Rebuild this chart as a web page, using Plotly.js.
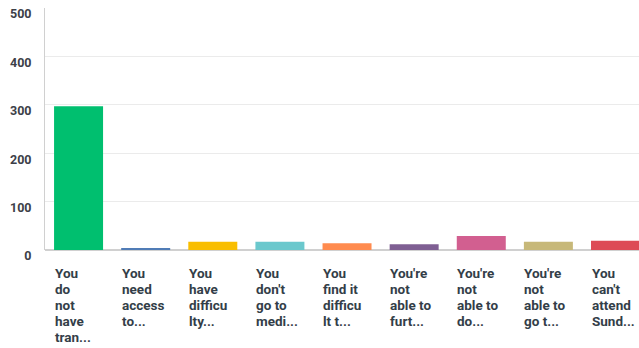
<!DOCTYPE html>
<html>
<head>
<meta charset="utf-8">
<script src="https://cdn.plot.ly/plotly-3.0.1.min.js"></script>
<style>html,body{margin:0;padding:0;background:#fff}#chart{width:639px;height:348px}</style>
</head>
<body>
<div id="chart"></div>
<script>
// Category labels as wrapped/truncated in the reference (one entry per line)
const categories = [
  ["You", "do", "not", "have", "tran..."],
  ["You", "need", "access", "to..."],
  ["You", "have", "difficu", "lty..."],
  ["You", "don't", "go to", "medi..."],
  ["You", "find it", "difficu", "lt t..."],
  ["You're", "not", "able to", "furt..."],
  ["You're", "not", "able to", "do..."],
  ["You're", "not", "able to", "go t..."],
  ["You", "can't", "attend", "Sund..."]
];
const values = [297, 4, 17, 17, 14, 12, 29, 17, 19];
const colors = ["#00bf6f","#507cb6","#f9be00","#6bc8cd","#ff8b4f","#7f5f93","#d25f90","#c7b879","#dd4b56"];
const yTicks = [0, 100, 200, 300, 400, 500];

const idx = categories.map((_, i) => i);
const trace = {
  type: 'bar',
  x: idx,
  y: values,
  marker: {color: colors},
  hoverinfo: 'none'
};
const annotations = [];
categories.forEach((lines, i) => {
  lines.forEach((ln, j) => {
    annotations.push({
      x: i, xref: 'x', y: 0, yref: 'y',
      xanchor: 'left', yanchor: 'middle', align: 'left', valign: 'middle',
      xshift: -25, yshift: -(23 + 16 * j), borderpad: 0,
      text: ln, showarrow: false,
      font: {family: 'Roboto', size: 13.5, color: '#333e48', weight: 700}
    });
  });
});
const layout = {
  width: 639, height: 348,
  margin: {l: 45, r: 0, t: 8, b: 98, pad: 0},
  paper_bgcolor: '#fff', plot_bgcolor: '#fff',
  bargap: 0.27,
  showlegend: false,
  xaxis: {
    range: [-0.5, 8.35], showticklabels: false, showgrid: false, zeroline: false,
    showline: false, ticks: '', fixedrange: true
  },
  yaxis: {
    range: [0, 500], tickvals: yTicks, ticktext: yTicks.map(String),
    showgrid: true, gridcolor: '#ebebeb', gridwidth: 1,
    zeroline: true, zerolinecolor: '#d0d0d0', zerolinewidth: 2,
    showline: true, linecolor: '#d0d0d0', linewidth: 1,
    ticks: '', ticklabelstandoff: 10, ticklabelshift: 6,
    tickfont: {family: 'Roboto', size: 12.5, color: '#3c4048', weight: 700}
  },
  annotations: annotations
};
Plotly.newPlot('chart', [trace], layout, {displayModeBar: false, staticPlot: true});
</script>
</body>
</html>
